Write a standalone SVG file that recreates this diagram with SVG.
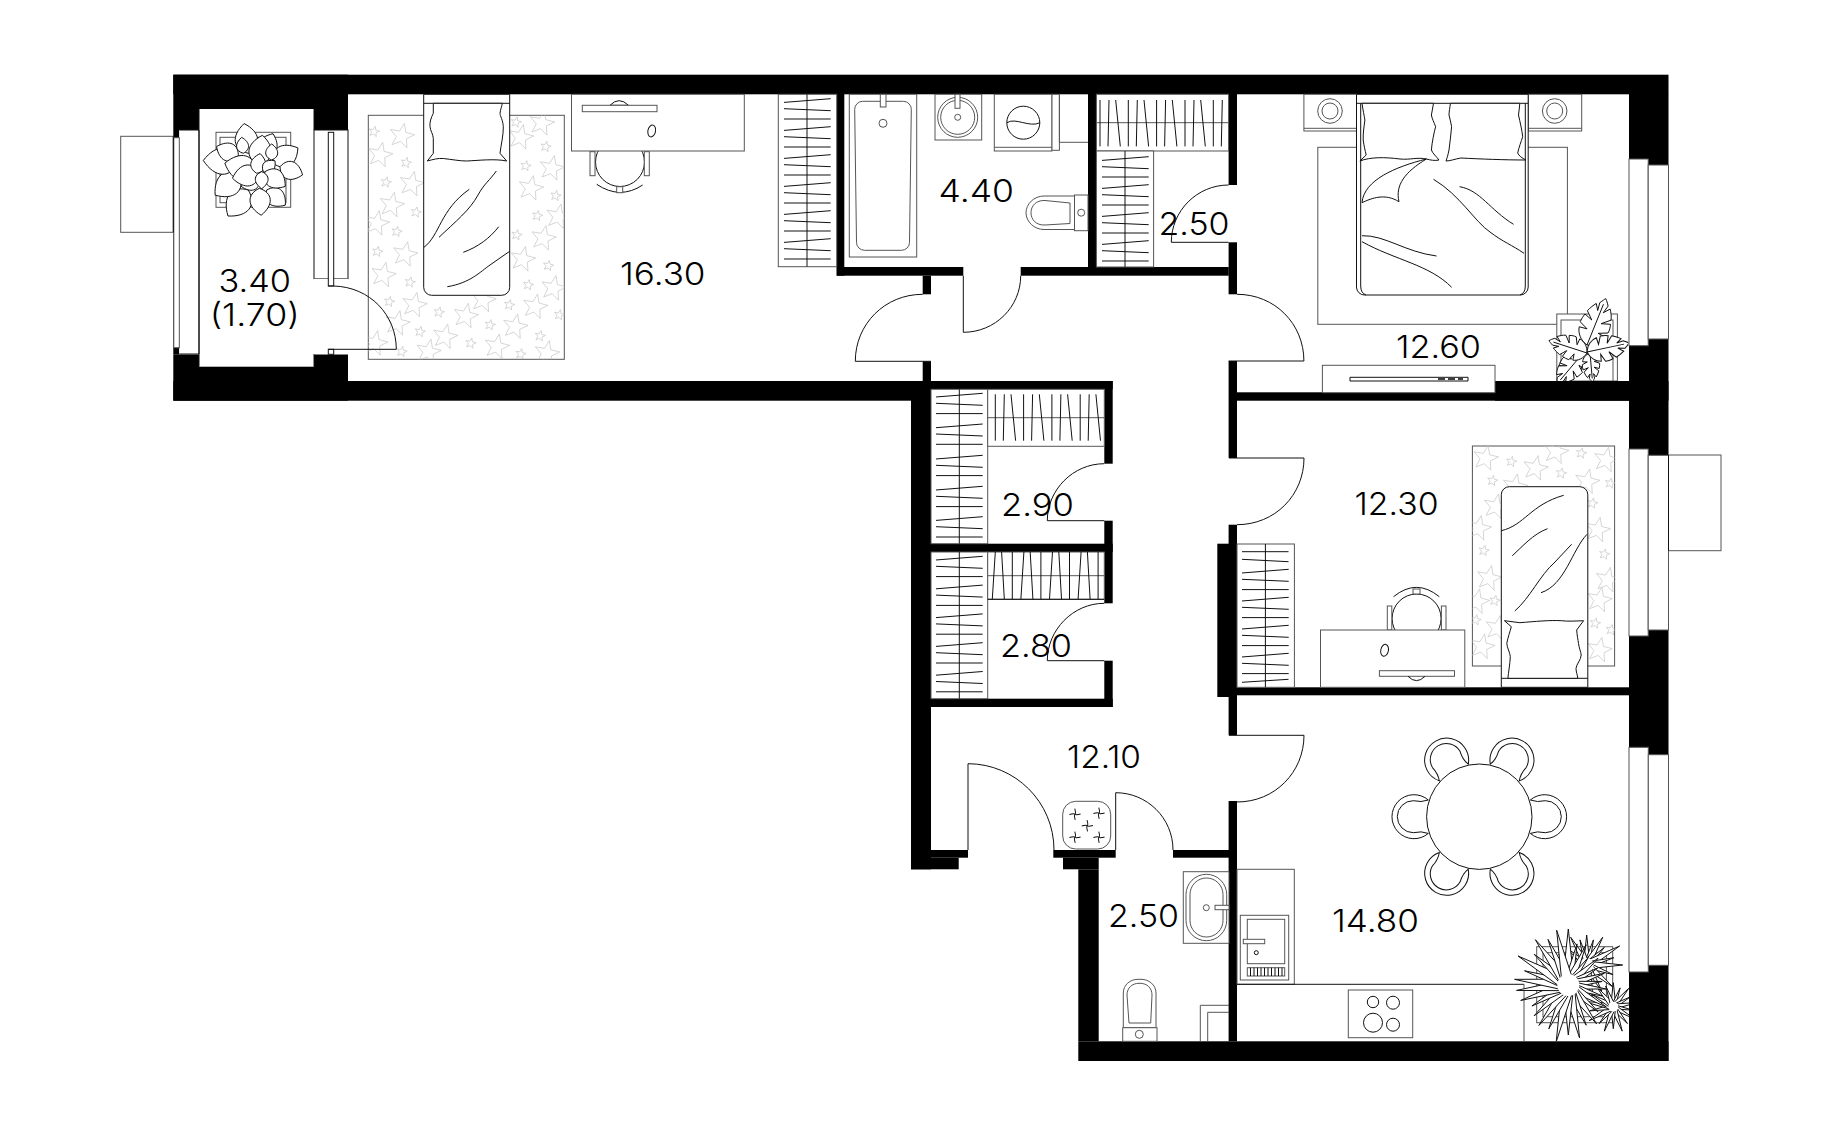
<svg xmlns="http://www.w3.org/2000/svg" width="1842" height="1136" viewBox="0 0 1842 1136">
<style>
.w{fill:#000}
.o{fill:#fff;stroke:#111;stroke-width:1}
.g{fill:#fff;stroke:#555;stroke-width:1}
.n{fill:none;stroke:#111;stroke-width:1}
.ng{fill:none;stroke:#555;stroke-width:1}
.s{fill:none;stroke:#c8c8c8;stroke-width:.7}
.v{vector-effect:non-scaling-stroke}
.t{font-family:"Inter","Liberation Sans",sans-serif;font-weight:300;font-size:31px;fill:#000}
</style>
<defs>
<polygon id="sb" class="s" transform="rotate(12)" points="0,-13 3.2,-4.4 12.4,-4 5.2,1.7 7.6,10.5 0,5.5 -7.6,10.5 -5.2,1.7 -12.4,-4 -3.2,-4.4"/>
<polygon id="ss" class="s" transform="rotate(12)" points="0,-5.5 1.35,-1.85 5.2,-1.7 2.2,.7 3.2,4.4 0,2.3 -3.2,4.4 -2.2,.7 -5.2,-1.7 -1.35,-1.85"/>
<path id="hv" class="n" d="M0 3.7L46.7 0M0 10L46.7 12M0 20.3H46.7"/>
<path id="hh" class="n" d="M0 0V46.4M9 0L8 46.4M15.7 0L20.3 46.4"/>
<path id="hh2" class="n" d="M0 0L-3 47M6.3 0L9 47M17 0V47"/>
<path id="lf" class="o v" d="M0 0C-.5 -.2 -.5 -.65 0 -1C.5 -.65 .5 -.2 0 0Z"/>
<path id="sp" class="o v" d="M-.11 0L0 -1L.11 0Z"/>
<path id="ml" class="o v" d="M0 0C-8 -2 -13 -8 -14 -14L-6 -15L-15 -19C-15 -22 -14.5 -25 -13.5 -28L-5 -25L-12.5 -32C-11 -36 -9 -39 -7 -42L-3 -36L-4 -44C-2 -47 -1 -49 0 -50C2 -48 3 -47 5 -44L3 -36L8 -42C10 -39 12 -36 13 -32L5 -25L14 -28C15 -25 15.5 -22 15 -19L6 -15L14 -14C13 -8 8 -2 0 0ZM0 0V-44"/>
<path id="ch" class="o" d="M-15 -16.7A22 22 0 1 1 -15 16.7Q-8 14 0 16A16 16 0 1 0 0 -16Q-8 -14 -15 -16.7Z"/>
<path id="pl" class="n" d="M-1 -5.5Q1 -1 0 0Q-1 1 1 5.5M-5.5 1Q-1 -1 0 0Q1 1 5.5 -1" transform="rotate(8)"/>
<clipPath id="cr1"><rect x="368.3" y="115.3" width="196" height="244"/></clipPath>
<clipPath id="cr2"><rect x="1472.4" y="446" width="142.2" height="220"/></clipPath>
<clipPath id="cp1"><rect x="1500" y="280" width="128.4" height="101"/></clipPath>
<clipPath id="cp2"><rect x="1500" y="900" width="129" height="141.3"/></clipPath>
</defs>
<rect width="1842" height="1136" fill="#fff"/>

<g id="walls" class="w">
<rect x="173.3" y="74.7" width="1495.2" height="19.6"/>
<rect x="173.3" y="74.7" width="174.7" height="55.3"/>
<rect x="173.3" y="354.3" width="174.7" height="46.4"/>
<rect x="173.3" y="381" width="757.7" height="19.7"/>
<rect x="173.3" y="130" width="6" height="224.3"/>
<rect x="922.7" y="275.7" width="8.3" height="18.6"/>
<rect x="922.7" y="361.3" width="8.3" height="20"/>
<rect x="911" y="381" width="20" height="488.3"/>
<rect x="931" y="381" width="181.7" height="8.3"/>
<rect x="1104.3" y="381" width="8.4" height="82.7"/>
<rect x="1104.3" y="520.7" width="8.4" height="82.6"/>
<rect x="1104.3" y="660.7" width="8.4" height="46.3"/>
<rect x="931" y="543.7" width="181.7" height="8.3"/>
<rect x="931" y="698.7" width="181.7" height="8.3"/>
<rect x="836.7" y="94" width="7.6" height="181.7"/>
<rect x="836.7" y="267" width="126.6" height="8.7"/>
<rect x="1020.7" y="267" width="208" height="8.7"/>
<rect x="1088" y="94" width="8.4" height="173"/>
<rect x="1228.6" y="94" width="8.4" height="91"/>
<rect x="1228.6" y="242.3" width="8.4" height="52"/>
<rect x="1228.6" y="361" width="8.4" height="97"/>
<rect x="1228.6" y="524.7" width="8.4" height="210.6"/>
<rect x="1228.6" y="801" width="8.4" height="240.3"/>
<rect x="1217.3" y="543.7" width="19.7" height="153.3"/>
<rect x="1237" y="392.3" width="392" height="8.4"/>
<rect x="1495" y="381" width="173.5" height="19.7"/>
<rect x="1237" y="687.3" width="392" height="8"/>
<rect x="1629" y="94" width="39.5" height="967"/>
<rect x="1078.3" y="1041.3" width="590.2" height="19.7"/>
<rect x="931" y="850" width="37" height="7.7"/>
<rect x="911" y="857.7" width="47.7" height="11.6"/>
<rect x="1053.3" y="850" width="62.4" height="7.7"/>
<rect x="1063" y="857.7" width="35.7" height="11.6"/>
<rect x="1078.3" y="869.3" width="20.4" height="172"/>
<rect x="1173" y="850" width="56" height="7.7"/>
</g>

<g id="windows">
<rect x="199" y="109" width="115" height="257.7" fill="#fff"/>
<rect x="179.3" y="130" width="19.7" height="224.3" fill="#fff"/>
<rect x="173.8" y="137.7" width="5.5" height="210" class="g"/>
<rect x="120.7" y="136.3" width="52.6" height="96" class="g"/>
<path class="n" d="M173.3 136.3V232.3M179.3 130H199V354H179.3M199 109V366.7M314 109V130M314 354V366.7"/>
<rect x="314" y="130" width="34" height="148.7" class="o"/>
<rect x="314" y="278.7" width="34" height="75.6" fill="#fff"/>
<rect x="1629" y="159" width="19.2" height="186.7" class="g"/>
<rect x="1648.2" y="165" width="20.3" height="174" class="g"/>
<rect x="1629" y="449" width="19.2" height="187" class="g"/>
<rect x="1648.2" y="455.3" width="20.3" height="174.7" class="g"/>
<rect x="1668.5" y="455" width="52.5" height="95.7" class="g"/>
<path class="n" d="M1668.5 455V550.7"/>
<rect x="1629" y="747.3" width="19.3" height="224.7" class="g"/>
<rect x="1648.3" y="754.7" width="20.2" height="210.6" class="g"/>
</g>

<g id="balcony">
<rect x="216" y="132.3" width="74.7" height="75" class="g"/>
<rect x="220" y="137.3" width="66" height="65.4" class="g"/>
<g id="balcony-plant">
<use href="#lf" transform="translate(248.3 153.3) rotate(-8) scale(30)"/>
<use href="#lf" transform="translate(263.3 156.7) rotate(23) scale(25)"/>
<use href="#lf" transform="translate(273.3 163.3) rotate(58) scale(29)"/>
<use href="#lf" transform="translate(280 166.7) rotate(110) scale(24)"/>
<use href="#lf" transform="translate(266.7 190) rotate(129) scale(24)"/>
<use href="#lf" transform="translate(248.3 190) rotate(-142) scale(33)"/>
<use href="#lf" transform="translate(240 175) rotate(-129) scale(32)"/>
<use href="#lf" transform="translate(238.3 161.7) rotate(-88) scale(35)"/>
<use href="#lf" transform="translate(238.3 156.7) rotate(-65) scale(24)"/>
<use href="#lf" transform="translate(259.3 188.3) rotate(176) scale(27)"/>
<use href="#lf" transform="translate(243.3 153.3) rotate(-6) scale(16)"/>
<use href="#lf" transform="translate(258.3 165) rotate(8) scale(30)"/>
<use href="#lf" transform="translate(271.7 160) scale(16)"/>
<use href="#lf" transform="translate(256.7 171.7) rotate(-75) scale(33)"/>
<use href="#lf" transform="translate(260 180) rotate(-108) scale(20)"/>
<use href="#lf" transform="translate(260 173.3) rotate(-100) scale(28)"/>
<use href="#lf" transform="translate(256.7 173.3) rotate(10) scale(20)"/>
<use href="#lf" transform="translate(263.3 171.7) rotate(47) scale(16)"/>
<use href="#lf" transform="translate(265 171.7) rotate(126) scale(25)"/>
<use href="#lf" transform="translate(261.7 171.7) rotate(180) scale(17)"/>
</g>
<text class="t" x="218.5" y="291.7" textLength="72.5" lengthAdjust="spacingAndGlyphs">3.40</text>
<text class="t" x="209.7" y="326" textLength="90" lengthAdjust="spacingAndGlyphs">(1.70)</text>
</g>

<g id="room-16-30">
<rect x="368.3" y="115.3" width="196" height="244" class="g"/>
<g clip-path="url(#cr1)">
<use href="#ss" x="374" y="131.7"/><use href="#sb" x="401.7" y="136"/><use href="#sb" x="380" y="155"/><use href="#ss" x="406" y="162.7"/><use href="#sb" x="411.7" y="184"/><use href="#ss" x="386" y="182.3"/><use href="#sb" x="391.7" y="205"/><use href="#ss" x="416" y="212.3"/><use href="#sb" x="376.7" y="223.3"/><use href="#ss" x="396.7" y="231.7"/><use href="#sb" x="405" y="254.3"/><use href="#ss" x="377.3" y="251.7"/><use href="#sb" x="383.3" y="275"/><use href="#ss" x="410" y="282.3"/><use href="#sb" x="414.3" y="305"/><use href="#ss" x="389.3" y="301.7"/><use href="#sb" x="397.3" y="323.3"/><use href="#ss" x="439" y="312.3"/><use href="#sb" x="465.7" y="316"/><use href="#ss" x="509.3" y="305"/><use href="#sb" x="483.3" y="300"/><use href="#ss" x="420" y="331.7"/><use href="#sb" x="445" y="336.7"/><use href="#ss" x="490" y="325"/><use href="#sb" x="515" y="326.7"/><use href="#sb" x="535" y="306.7"/><use href="#ss" x="540" y="336"/><use href="#sb" x="496.7" y="346.7"/><use href="#ss" x="470.7" y="343.3"/><use href="#ss" x="520.7" y="354"/><use href="#sb" x="428.3" y="351.7"/><use href="#sb" x="546.7" y="353.3"/><use href="#ss" x="401.7" y="351.7"/><use href="#sb" x="375" y="343.3"/><use href="#sb" x="541.7" y="123.3"/><use href="#ss" x="516" y="122.3"/><use href="#sb" x="520.7" y="137.3"/><use href="#ss" x="545.7" y="146.7"/><use href="#sb" x="551.7" y="168.3"/><use href="#ss" x="525.7" y="166"/><use href="#sb" x="530.7" y="188.3"/><use href="#ss" x="555.7" y="195.7"/><use href="#sb" x="543.3" y="238.3"/><use href="#ss" x="537.3" y="215.7"/><use href="#sb" x="558.3" y="216.7"/><use href="#ss" x="516.7" y="235"/><use href="#sb" x="522.7" y="259.3"/><use href="#ss" x="548.3" y="265.7"/><use href="#sb" x="553.3" y="288.3"/><use href="#ss" x="528.3" y="285"/><use href="#ss" x="559.3" y="315"/>
</g>
<path class="o" d="M423.7 94.3H509.7V287.3A8 8 0 0 1 501.7 295.3H431.7A8 8 0 0 1 423.7 287.3Z"/>
<path class="n" d="M423.7 103.3H509.7"/>
<path class="o" d="M433.3 103.3L433.3 113.3C431 118 429.5 122 430 126.7C430.5 131 433 134 433.3 138.3L433.3 153.3L427.3 161C433 159.5 438 158 443.3 158.5C452 159.5 460 161 466.7 161C478 160.5 495 158.5 506.7 161L500 153.3C501 145 503.5 135 503.3 126.7C503 120 500 116 500 113.3C500.5 109 502 106 502.3 103.3Z"/>
<path class="n" d="M424 247.3C440 235 440 210 469.3 189.3M439 237.3C455 222 470 210 478 195C484 184 490 180 496.3 171M463.3 252.3C478 247 490 238 498.7 226.7M447.3 286.7C470 283 480 272 490 265C497 260 503 256 509.7 251.3"/>
<circle cx="620" cy="162" r="24.5" class="o"/>
<rect x="590" y="151.7" width="5" height="24" class="g"/>
<rect x="644.3" y="151.7" width="5" height="24" class="g"/>
<path class="n" d="M596.7 184.3Q620 200 642.7 185"/>
<rect x="616.7" y="186.7" width="6" height="6" class="g"/>
<rect x="571.5" y="94.3" width="172.8" height="56.7" class="g"/>
<path class="o" d="M610 105.3Q619 96 628.5 105.3Z"/>
<rect x="582.3" y="105.3" width="74.7" height="6.4" class="g"/>
<ellipse cx="651.7" cy="131" rx="3.8" ry="6" transform="rotate(12 651.7 131)" class="n"/>
<text class="t" x="620" y="284.7" textLength="85.5" lengthAdjust="spacingAndGlyphs">16.30</text>
</g>

<g id="door-balcony">
<rect x="328.3" y="132.3" width="5.4" height="153.7" class="o"/>
<rect x="328.3" y="349.3" width="5.4" height="5" class="o"/>
<path class="n" d="M328.3 286H333.7C370 287 396.3 315 396.3 349.3H328.3"/>
</g>

<g id="wardrobe-16-30">
<rect x="778.3" y="94.3" width="58.4" height="172.4" class="g"/>
<path class="n" d="M807 94.3V266.7"/>
<use href="#hv" x="784" y="98.7"/><use href="#hv" x="784" y="126.7"/><use href="#hv" x="784" y="154.7"/><use href="#hv" x="784" y="182.7"/><use href="#hv" x="784" y="210.7"/><use href="#hv" x="784" y="238.7"/>
</g>

<g id="bath-4-40">
<rect x="849.3" y="94.3" width="67.4" height="162.7" class="g"/>
<path class="g" d="M862.7 101.3H903.3A8 8 0 0 1 911.3 109.3L909.5 242.3A8 8 0 0 1 901.5 250.3H864.5A8 8 0 0 1 856.5 242.3L854.7 109.3A8 8 0 0 1 862.7 101.3Z"/>
<rect x="880.3" y="94.3" width="5.7" height="12.7" class="g"/>
<circle cx="883" cy="123.3" r="4" class="ng"/>
<rect x="935" y="94.3" width="46.7" height="45.7" class="g"/>
<circle cx="957.7" cy="117.3" r="20" class="ng"/><circle cx="957.7" cy="117.3" r="17" class="ng"/><circle cx="957.7" cy="117.3" r="3" class="ng"/>
<rect x="955" y="94.3" width="5" height="14" class="g"/>
<rect x="994.3" y="94.3" width="57.7" height="56.7" class="g"/>
<path class="ng" d="M994.3 147.3H1052"/>
<circle cx="1023.3" cy="122.7" r="16.5" class="n"/>
<path class="n" d="M1007 122.7C1015 117 1030 128 1039.8 122.7"/>
<rect x="1052" y="94.3" width="7.4" height="56" class="g"/>
<path class="ng" d="M1059.4 94.3V142.3H1088"/>
<path class="g" d="M1074.5 196H1044C1034 196 1026 204 1026 212.7C1026 221.5 1034 229.5 1044 229.5H1074.5Z"/>
<path class="ng" d="M1070 203L1045 200.5C1036 200 1031 206 1031 212.7C1031 219.5 1036 225.5 1045 225L1070 223.5Z"/>
<rect x="1074.5" y="195" width="13.5" height="35.7" class="g"/>
<circle cx="1081.2" cy="212.7" r="3.5" class="ng"/>
<text class="t" x="938.5" y="201.7" textLength="75.5" lengthAdjust="spacingAndGlyphs">4.40</text>
</g>

<g id="door-bath"><path class="n" d="M963.3 275.7V332.3C995 332.3 1020.7 307 1020.7 275.7"/></g>
<g id="door-16-30"><path class="n" d="M922.7 294.3C885 294.3 855.3 324 855.3 361.3H931"/></g>

<g id="closet-2-50-top">
<rect x="1096.4" y="94.3" width="132.2" height="56.7" class="g"/>
<path class="ng" d="M1096.4 122.7H1228.6"/>
<use href="#hh" x="1100" y="100"/><use href="#hh" x="1128.3" y="100"/><use href="#hh" x="1156.6" y="100"/><use href="#hh" x="1185" y="100"/>
<path class="n" d="M1213.3 100V146.4M1222.3 100L1221.3 146.4"/>
<rect x="1096.4" y="151" width="57.2" height="116" class="g"/>
<path class="n" d="M1125 151V267"/>
<use href="#hv" x="1102" y="156.7"/><use href="#hv" x="1102" y="184.7"/><use href="#hv" x="1102" y="212.7"/><use href="#hv" x="1102" y="240.7"/>
<path class="n" d="M1228.6 185C1197 185 1171.3 211 1171.3 242.3H1228.6"/>
<text class="t" x="1158.5" y="235" textLength="71" lengthAdjust="spacingAndGlyphs">2.50</text>
</g>

<g id="room-12-60">
<rect x="1317.8" y="147.3" width="249.6" height="177" class="g"/>
<rect x="1303.9" y="94.3" width="52.6" height="36.7" class="g"/>
<path class="ng" d="M1303.9 128.3H1356.5"/>
<circle cx="1330" cy="111" r="12.3" class="ng"/><circle cx="1330" cy="111" r="8" class="ng"/>
<rect x="1528.2" y="94.3" width="53.5" height="36.7" class="g"/>
<path class="ng" d="M1528.2 128.3H1581.7"/>
<circle cx="1554.7" cy="111" r="12.3" class="ng"/><circle cx="1554.7" cy="111" r="8" class="ng"/>
<path class="o" d="M1356.5 94.3H1528.2V287A8 8 0 0 1 1520.2 295H1364.5A8 8 0 0 1 1356.5 287Z"/>
<path class="n" d="M1356.5 103.3H1528.2M1360.7 103.3V286Q1360.7 293 1366 295M1525.3 103.3V286Q1525.3 293 1520 295"/>
<path class="o" d="M1362 103.3C1363 110 1364 115 1364.9 120C1364 127 1363 133 1363.2 140C1364 146 1365 150 1366.2 155L1359.9 161C1370 157 1385 157 1400 159C1410 160 1418 157 1426.4 159C1430 160 1435 161 1439 160C1436 156 1433 154 1431.4 150C1432 142 1434 133 1435.6 126.7C1434 122 1432 119 1431.4 115C1432 111 1433 107 1433.5 103.3Z"/>
<path class="o" d="M1450.4 103.3C1450 108 1449 111 1449 115C1450 119 1451 123 1451.6 126.7C1451 134 1450 142 1449 150C1448 155 1447 158 1446 161C1450 161 1455 159 1460.9 158C1480 159 1505 160 1526 160C1522 158 1519 156 1517.7 153C1519 147 1521 142 1522.7 136.7C1522 130 1520 122 1518.5 115C1519 111 1519.5 107 1519.8 103.3Z"/>
<path class="n" d="M1426.4 159C1395 167 1364 180 1362 202.7C1372 198 1385 193 1399 201.7C1395 185 1405 172 1426.4 159M1433.5 179.3C1460 195 1475 222 1490 232C1503 242 1512 245 1524 253.3M1459.6 186.7C1480 190 1490 210 1513.5 224.3M1362 235.7C1385 235 1405 252 1436.5 256M1362 241.7C1395 260 1430 265 1451.6 287.3"/>
<rect x="1322.4" y="365.3" width="172.6" height="27.4" class="g"/>
<path class="n" d="M1350 377.3H1468V381H1350Z"/>
<path d="M1438 379H1445M1448 379H1455M1458 379H1463" stroke="#000" stroke-width="1.6"/>
<g id="plant-12-60" clip-path="url(#cp1)">
<rect x="1556.8" y="314" width="60.6" height="67" class="g"/>
<rect x="1561" y="320" width="52" height="61" class="g"/>
<use href="#ml" transform="translate(1587 353) rotate(-125) scale(.72)"/>
<use href="#ml" transform="translate(1583 353) rotate(-140) scale(.8)"/>
<use href="#ml" transform="translate(1590 353) rotate(175) scale(.58)"/>
<use href="#ml" transform="translate(1587 353) rotate(-72) scale(.8)"/>
<use href="#ml" transform="translate(1587 345) rotate(22) scale(1)"/>
<use href="#ml" transform="translate(1587 352) rotate(78) scale(.86)"/>
</g>
<text class="t" x="1396" y="357.7" textLength="85" lengthAdjust="spacingAndGlyphs">12.60</text>
</g>
<g id="door-12-60"><path class="n" d="M1237 294.3C1275 294.3 1303.9 324 1303.9 361H1228.6"/></g>

<g id="closet-2-90">
<rect x="931" y="389.3" width="56.7" height="154.4" class="g"/>
<path class="n" d="M959.3 389.3V543.7"/>
<use href="#hv" x="936" y="393.3"/><use href="#hv" x="936" y="424"/><use href="#hv" x="936" y="455.3"/><use href="#hv" x="936" y="486.3"/><use href="#hv" x="936" y="516.7"/>
<rect x="987.7" y="389.3" width="116.6" height="57" class="g"/>
<path class="ng" d="M987.7 417.7H1104.3"/>
<use href="#hh" x="995.3" y="394.3"/><use href="#hh" x="1023.6" y="394.3"/><use href="#hh" x="1051.9" y="394.3"/><use href="#hh" x="1080.2" y="394.3"/>
<path class="n" d="M1104.3 463.7C1073 463.7 1047.3 490 1047.3 520.7H1104.3"/>
<text class="t" x="1001" y="515.7" textLength="73" lengthAdjust="spacingAndGlyphs">2.90</text>
</g>
<g id="closet-2-80">
<rect x="931" y="552" width="56.7" height="146.7" class="g"/>
<path class="n" d="M959.3 552V698.7"/>
<use href="#hv" x="936" y="556.3"/><use href="#hv" x="936" y="585.1"/><use href="#hv" x="936" y="613.9"/><use href="#hv" x="936" y="642.7"/><use href="#hv" x="936" y="671.5"/>
<rect x="987.7" y="552" width="116.6" height="47.3" class="g"/>
<path class="ng" d="M987.7 575.7H1104.3"/>
<use href="#hh2" x="995.3" y="552"/><use href="#hh2" x="1023.9" y="552"/><use href="#hh2" x="1052.5" y="552"/><use href="#hh2" x="1081.1" y="552"/>
<path class="n" d="M987.7 599.3H1104.3"/>
<path class="n" d="M1104.3 603.3C1073 603.3 1047.3 630 1047.3 660.7H1104.3"/>
<text class="t" x="1000" y="656.7" textLength="72" lengthAdjust="spacingAndGlyphs">2.80</text>
</g>

<g id="room-12-30">
<rect x="1472.4" y="446" width="142.2" height="220" class="g"/>
<g clip-path="url(#cr2)">
<use href="#sb" x="1485.5" y="458.3"/><use href="#ss" x="1511.3" y="461.7"/><use href="#sb" x="1535.4" y="468.3"/><use href="#sb" x="1556" y="451.7"/><use href="#ss" x="1581.2" y="453.3"/><use href="#sb" x="1606" y="460"/><use href="#ss" x="1561.2" y="473.3"/><use href="#sb" x="1587" y="481.7"/><use href="#ss" x="1492.4" y="480.7"/><use href="#sb" x="1514.8" y="486.7"/><use href="#ss" x="1610.2" y="483.3"/><use href="#sb" x="1495.8" y="506.7"/><use href="#ss" x="1592.4" y="503.3"/><use href="#sb" x="1478.6" y="528.3"/><use href="#sb" x="1597.5" y="530"/><use href="#ss" x="1483.8" y="550.7"/><use href="#ss" x="1604.3" y="554.3"/><use href="#sb" x="1488.9" y="578.3"/><use href="#sb" x="1607.7" y="580"/><use href="#ss" x="1494.8" y="600.7"/><use href="#sb" x="1476.9" y="601.7"/><use href="#sb" x="1599.3" y="600"/><use href="#ss" x="1475.8" y="620"/><use href="#sb" x="1497.5" y="628.3"/><use href="#ss" x="1595.2" y="623.3"/><use href="#ss" x="1611.2" y="630"/><use href="#sb" x="1482" y="646.7"/><use href="#sb" x="1599.3" y="650"/>
</g>
<path class="o" d="M1509.3 486.7H1579.8A8 8 0 0 1 1587.8 494.7V687.3H1501.3V494.7A8 8 0 0 1 1509.3 486.7Z"/>
<path class="n" d="M1501.3 678.3H1587.8"/>
<path class="o" d="M1504.4 620.7L1519.9 622.7C1535 621.5 1550 620 1561.2 620.7C1568 621.5 1576 621 1583.6 620.7L1576.7 630C1577 635 1578 640 1578.5 643.3C1579 648 1581 652 1581.2 655C1581 660 1576.5 664 1576 668.3C1576 672 1577.5 675 1577.8 678.3H1507.9C1508.5 672 1510 664 1510.3 656.7C1510 652 1507 648 1506.8 643.3C1508 637 1510 632 1511.3 626.7Z"/>
<path class="n" d="M1501.3 530.7C1525 525 1530 505 1563.7 495.3M1512.3 555.7C1522 547 1533 534 1547.5 528.7M1514.8 611C1530 598 1540 575 1555 562L1571.6 544.3M1541 592.7C1565 585 1572 550 1587 534.3"/>
<circle cx="1416.6" cy="618.5" r="24.5" class="o"/>
<rect x="1387.3" y="606" width="4.5" height="24" class="g"/>
<rect x="1441.4" y="606" width="4.6" height="24" class="g"/>
<path class="n" d="M1393.5 596.7Q1416.5 578 1439.3 596.7"/>
<rect x="1413" y="589" width="7" height="5" class="g"/>
<rect x="1320.5" y="630" width="144.3" height="57.3" class="g"/>
<rect x="1379.4" y="670.7" width="75.1" height="5.6" class="g"/>
<path class="n" d="M1408 676.3Q1416.5 685 1425 676.3"/>
<ellipse cx="1384.6" cy="650.3" rx="3.8" ry="6" transform="rotate(12 1384.6 650.3)" class="n"/>
<rect x="1237" y="544" width="57.4" height="143.3" class="g"/>
<path class="n" d="M1265.4 544V687.3M1242 551.7H1288.5M1242 559.3L1288.5 561.7M1242 682.3L1288.5 679.3"/>
<use href="#hv" x="1242" y="569.3"/><use href="#hv" x="1242" y="597.3"/><use href="#hv" x="1242" y="625.3"/><use href="#hv" x="1242" y="653.3"/>
<path class="n" d="M1229 458H1304C1304 495 1275 524.7 1237 524.7"/>
<text class="t" x="1354.5" y="515" textLength="84" lengthAdjust="spacingAndGlyphs">12.30</text>
</g>

<g id="room-14-80">
<path class="n" d="M1237 735.3H1229M1237 735.3H1304C1304 772 1275 802 1237 802"/>
<circle cx="1479.3" cy="816.7" r="52.7" class="o"/>
<g id="chairs">
<use href="#ch" transform="translate(1479.3 816.7) rotate(0) translate(66 0)"/>
<use href="#ch" transform="translate(1479.3 816.7) rotate(60) translate(66 0)"/>
<use href="#ch" transform="translate(1479.3 816.7) rotate(120) translate(66 0)"/>
<use href="#ch" transform="translate(1479.3 816.7) rotate(180) translate(66 0)"/>
<use href="#ch" transform="translate(1479.3 816.7) rotate(240) translate(66 0)"/>
<use href="#ch" transform="translate(1479.3 816.7) rotate(300) translate(66 0)"/>
</g>
<rect x="1237" y="869.3" width="57.3" height="115" class="g"/>
<rect x="1240.3" y="915.3" width="48.4" height="64.7" class="g"/>
<rect x="1247.3" y="919.3" width="37.4" height="44.4" class="g"/>
<rect x="1243.3" y="939.3" width="21.4" height="4.4" class="g"/>
<circle cx="1256.3" cy="952.7" r="2" class="n"/>
<rect x="1247.3" y="967.7" width="37.4" height="8.3" class="g"/>
<path class="n" d="M1250.5 967.7V976M1254 967.7V976M1257.5 967.7V976M1261 967.7V976M1264.5 967.7V976M1268 967.7V976M1271.5 967.7V976M1275 967.7V976M1278.5 967.7V976M1282 967.7V976"/>
<path class="n" d="M1237 984.3H1524"/><path class="ng" d="M1524 984.3V1041.3"/>
<rect x="1348.3" y="990" width="64.4" height="47.7" class="g"/>
<circle cx="1373" cy="1002" r="5.7" class="n"/><circle cx="1393" cy="1002.7" r="6.5" class="n"/><circle cx="1373" cy="1022.7" r="9.5" class="n"/><circle cx="1393" cy="1024.7" r="6.5" class="n"/>
<rect x="1536.7" y="946.7" width="76" height="76" class="g"/>
<rect x="1543" y="952.7" width="63.4" height="64" class="g"/>
<g id="palms" clip-path="url(#cp2)">
<g transform="translate(1586.7 965)">
<use href="#sp" transform="rotate(0) scale(30)"/><use href="#sp" transform="rotate(15) scale(26)"/><use href="#sp" transform="rotate(30) scale(32)"/><use href="#sp" transform="rotate(45) scale(25)"/><use href="#sp" transform="rotate(60) scale(38)"/><use href="#sp" transform="rotate(75) scale(28)"/><use href="#sp" transform="rotate(90) scale(36)"/><use href="#sp" transform="rotate(110) scale(28)"/><use href="#sp" transform="rotate(130) scale(34)"/><use href="#sp" transform="rotate(150) scale(30)"/><use href="#sp" transform="rotate(170) scale(36)"/><use href="#sp" transform="rotate(190) scale(30)"/><use href="#sp" transform="rotate(210) scale(30)"/><use href="#sp" transform="rotate(230) scale(26)"/><use href="#sp" transform="rotate(250) scale(30)"/><use href="#sp" transform="rotate(270) scale(26)"/><use href="#sp" transform="rotate(290) scale(30)"/><use href="#sp" transform="rotate(310) scale(26)"/><use href="#sp" transform="rotate(330) scale(32)"/><use href="#sp" transform="rotate(345) scale(26)"/>
<circle r="7" fill="#fff"/>
</g>
<g transform="translate(1613.3 1006.7)">
<use href="#sp" transform="rotate(0) scale(24)"/><use href="#sp" transform="rotate(20) scale(20)"/><use href="#sp" transform="rotate(40) scale(24)"/><use href="#sp" transform="rotate(60) scale(20)"/><use href="#sp" transform="rotate(80) scale(24)"/><use href="#sp" transform="rotate(100) scale(20)"/><use href="#sp" transform="rotate(120) scale(24)"/><use href="#sp" transform="rotate(140) scale(22)"/><use href="#sp" transform="rotate(160) scale(26)"/><use href="#sp" transform="rotate(180) scale(22)"/><use href="#sp" transform="rotate(200) scale(26)"/><use href="#sp" transform="rotate(220) scale(22)"/><use href="#sp" transform="rotate(240) scale(28)"/><use href="#sp" transform="rotate(260) scale(24)"/><use href="#sp" transform="rotate(280) scale(30)"/><use href="#sp" transform="rotate(300) scale(24)"/><use href="#sp" transform="rotate(320) scale(26)"/><use href="#sp" transform="rotate(340) scale(22)"/>
<circle r="5" fill="#fff"/>
</g>
<g transform="translate(1568.3 985)">
<use href="#sp" transform="rotate(0) scale(56)"/><use href="#sp" transform="rotate(12) scale(42)"/><use href="#sp" transform="rotate(24) scale(44)"/><use href="#sp" transform="rotate(36) scale(34)"/><use href="#sp" transform="rotate(48) scale(40)"/><use href="#sp" transform="rotate(60) scale(34)"/><use href="#sp" transform="rotate(72) scale(38)"/><use href="#sp" transform="rotate(84) scale(34)"/><use href="#sp" transform="rotate(96) scale(38)"/><use href="#sp" transform="rotate(108) scale(36)"/><use href="#sp" transform="rotate(120) scale(44)"/><use href="#sp" transform="rotate(132) scale(40)"/><use href="#sp" transform="rotate(144) scale(48)"/><use href="#sp" transform="rotate(156) scale(44)"/><use href="#sp" transform="rotate(168) scale(54)"/><use href="#sp" transform="rotate(180) scale(50)"/><use href="#sp" transform="rotate(192) scale(58)"/><use href="#sp" transform="rotate(204) scale(48)"/><use href="#sp" transform="rotate(216) scale(50)"/><use href="#sp" transform="rotate(228) scale(46)"/><use href="#sp" transform="rotate(240) scale(42)"/><use href="#sp" transform="rotate(252) scale(50)"/><use href="#sp" transform="rotate(264) scale(52)"/><use href="#sp" transform="rotate(276) scale(54)"/><use href="#sp" transform="rotate(288) scale(46)"/><use href="#sp" transform="rotate(300) scale(58)"/><use href="#sp" transform="rotate(312) scale(46)"/><use href="#sp" transform="rotate(324) scale(56)"/><use href="#sp" transform="rotate(336) scale(50)"/><use href="#sp" transform="rotate(348) scale(56)"/>
<circle r="11" fill="#fff"/>
</g>
</g>
<text class="t" x="1332" y="931.7" textLength="87" lengthAdjust="spacingAndGlyphs">14.80</text>
</g>

<g id="hall-12-10">
<rect x="1062.7" y="801.3" width="48" height="47.7" rx="13" class="g"/>
<use href="#pl" x="1075" y="814.3"/><use href="#pl" x="1099" y="813.3"/><use href="#pl" x="1087.3" y="825.7"/><use href="#pl" x="1075" y="837.3"/><use href="#pl" x="1099" y="837.3"/>
<path class="n" d="M968 850V763.7C1015 763.7 1054 802 1054 850"/>
<path class="n" d="M1115.7 850V792.7C1147 792.7 1173 818 1173 850"/>
<text class="t" x="1067" y="767.7" textLength="74" lengthAdjust="spacingAndGlyphs">12.10</text>
</g>

<g id="bath-2-50">
<rect x="1183.3" y="871.7" width="45.7" height="71.6" class="g"/>
<rect x="1186" y="874.3" width="40.7" height="66.4" rx="20.3" class="ng"/>
<rect x="1190" y="878" width="33" height="59" rx="16.5" class="ng"/>
<circle cx="1206.3" cy="907.7" r="3" class="ng"/>
<rect x="1215" y="905.3" width="14" height="4.4" class="g"/>
<path class="g" d="M1123.3 1027.7V993C1123.3 985 1130 979.3 1138 979.3H1141C1149 979.3 1156 985 1156 993V1027.7Z"/>
<path class="ng" d="M1129 1023L1127 995C1127 988 1132 983.3 1139 983.3H1140C1147 983.3 1152 988 1152 995L1150.7 1023Z"/>
<rect x="1122.7" y="1027.7" width="34.3" height="13.6" class="g"/>
<circle cx="1139.3" cy="1034.3" r="4" class="ng"/>
<path class="ng" d="M1200.3 1041.3V1005.3H1229M1207.7 1041.3V1012.3H1229"/>
<text class="t" x="1108" y="926.7" textLength="71" lengthAdjust="spacingAndGlyphs">2.50</text>
</g>
</svg>
